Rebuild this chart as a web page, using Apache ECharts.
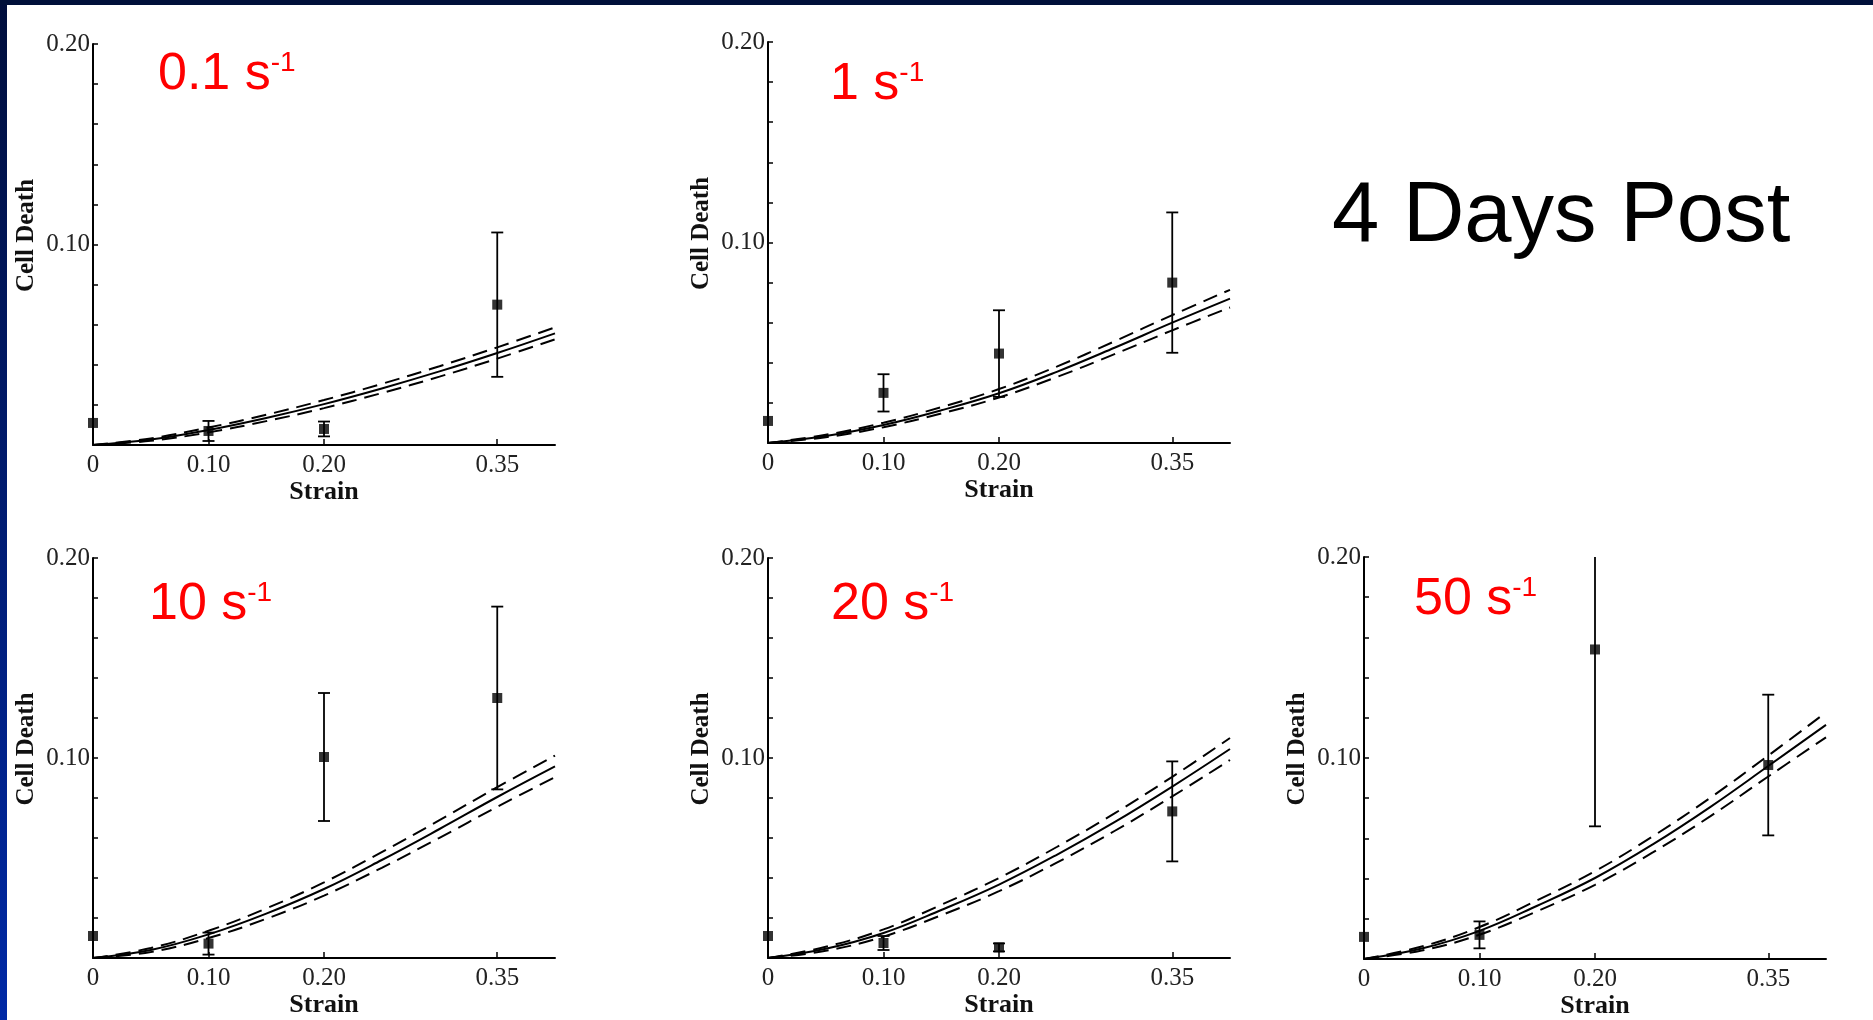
<!DOCTYPE html>
<html>
<head>
<meta charset="utf-8">
<title>Cell Death vs Strain — 4 Days Post</title>
<script src="https://cdn.jsdelivr.net/npm/echarts@6/dist/echarts.min.js"></script>
<style>
  html, body { margin: 0; padding: 0; background: #ffffff; }
  #chart { width: 1873px; height: 1020px; }
</style>
</head>
<body>
<div id="chart"></div>
<script>
// Strain-rate groups, one panel each
const rateLabels = ['0.1', '1', '10', '20', '50'];

// Measured strains and tick labels
const strainPoints = [0, 0.10, 0.20, 0.35];
const xTickValues = [0, 0.10, 0.20, 0.35];
const xTickLabels = ['0', '0.10', '0.20', '0.35'];

// Mean cell death and error half-widths at each strain
const mean01 = [0.011, 0.007, 0.008, 0.070];
const err01  = [0, 0.005, 0.0037, 0.036];
const mean1  = [0.011, 0.025, 0.0446, 0.080];
const err1   = [0, 0.0093, 0.0216, 0.035];
const mean10 = [0.011, 0.0072, 0.1005, 0.130];
const err10  = [0, 0.0055, 0.032, 0.0457];
const mean20 = [0.011, 0.0075, 0.0053, 0.0733];
const err20  = [0, 0.0035, 0.002, 0.025];
const mean50 = [0.011, 0.012, 0.154, 0.0965];
const err50  = [0, 0.0067, 0.088, 0.035];

// Fitted model curve with its upper and lower bounds
const fitStrain = [0, 0.05, 0.10, 0.15, 0.20, 0.25, 0.30, 0.35, 0.40];
const fitMid01 = [0, 0.0027, 0.0075, 0.0135, 0.0204, 0.0282, 0.0367, 0.0459, 0.0557];
const fitHi01  = [0, 0.0033, 0.0087, 0.0151, 0.0224, 0.0305, 0.0393, 0.0487, 0.0587];
const fitLo01  = [0, 0.0021, 0.0063, 0.0119, 0.0184, 0.0259, 0.0341, 0.0431, 0.0527];
const fitMid1  = [0, 0.0035, 0.0090, 0.0163, 0.0248, 0.0355, 0.0475, 0.0600, 0.0720];
const fitHi1   = [0, 0.0041, 0.0101, 0.0179, 0.0269, 0.0381, 0.0507, 0.0638, 0.0764];
const fitLo1   = [0, 0.0029, 0.0079, 0.0147, 0.0227, 0.0329, 0.0443, 0.0562, 0.0676];
const fitMid10 = [0, 0.0040, 0.0118, 0.0222, 0.0345, 0.0490, 0.0645, 0.0805, 0.0958];
const fitHi10  = [0, 0.0050, 0.0136, 0.0248, 0.0378, 0.0529, 0.0689, 0.0854, 0.1012];
const fitLo10  = [0, 0.0030, 0.0100, 0.0196, 0.0312, 0.0451, 0.0601, 0.0756, 0.0904];
const fitMid20 = [0, 0.0046, 0.0125, 0.0240, 0.0367, 0.0516, 0.0679, 0.0857, 0.1045];
const fitHi20  = [0, 0.0056, 0.0143, 0.0266, 0.0400, 0.0555, 0.0723, 0.0906, 0.1100];
const fitLo20  = [0, 0.0036, 0.0107, 0.0214, 0.0334, 0.0477, 0.0635, 0.0808, 0.0990];
const fitMid50 = [0, 0.0052, 0.0140, 0.0265, 0.0403, 0.0570, 0.0757, 0.0960, 0.1165];
const fitHi50  = [0, 0.0062, 0.0159, 0.0292, 0.0437, 0.0610, 0.0803, 0.1012, 0.1227];
const fitLo50  = [0, 0.0042, 0.0121, 0.0238, 0.0369, 0.0530, 0.0711, 0.0908, 0.1103];

const Y_MAX = 0.20;
const X_MAX = 0.40;

// Panel placement (pixels) and the rate label anchor for each panel
const panels = [
  { mean: mean01, err: err01, mid: fitMid01, hi: fitHi01, lo: fitLo01,
    grid: { left: 93, top: 44, width: 462, height: 401 }, label: [158, 49] },
  { mean: mean1, err: err1, mid: fitMid1, hi: fitHi1, lo: fitLo1,
    grid: { left: 768, top: 42, width: 462, height: 401 }, label: [830, 59] },
  { mean: mean10, err: err10, mid: fitMid10, hi: fitHi10, lo: fitLo10,
    grid: { left: 93, top: 558, width: 462, height: 400 }, label: [149, 579] },
  { mean: mean20, err: err20, mid: fitMid20, hi: fitHi20, lo: fitLo20,
    grid: { left: 768, top: 558, width: 462, height: 400 }, label: [831, 579] },
  { mean: mean50, err: err50, mid: fitMid50, hi: fitHi50, lo: fitLo50,
    grid: { left: 1364, top: 557, width: 462, height: 402 }, label: [1414, 574] }
];

const SERIF = "'Liberation Serif', 'Times New Roman', serif";
const SANS = "'Liberation Sans', Arial, sans-serif";

const grids = [], xAxes = [], yAxes = [], series = [], graphics = [];

// Slide frame: dark strip along the top, blue strip down the left
graphics.push({
  type: 'rect', x: 0, y: 0, z: 10,
  shape: { width: 7, height: 1020 },
  style: { fill: new echarts.graphic.LinearGradient(0, 0, 0, 1, [
    { offset: 0, color: '#000e3c' }, { offset: 1, color: '#0029a6' }]) }
});
graphics.push({
  type: 'rect', x: 0, y: 0, z: 11,
  shape: { width: 1873, height: 5 },
  style: { fill: '#00103a' }
});

panels.forEach((p, i) => {
  grids.push(Object.assign({ containLabel: false }, p.grid));

  xAxes.push({
    type: 'value', gridIndex: i, min: 0, max: X_MAX,
    name: 'Strain', nameLocation: 'middle', nameGap: 30,
    nameTextStyle: { fontFamily: SERIF, fontWeight: 'bold', fontSize: 26, color: '#111' },
    axisLine: { show: true, onZero: false, lineStyle: { color: '#000', width: 2 } },
    axisTick: { show: true, inside: true, length: 6, customValues: xTickValues.slice(1),
      lineStyle: { color: '#000', width: 1.5 } },
    axisLabel: {
      customValues: xTickValues, margin: 8,
      fontFamily: SERIF, fontSize: 25, color: '#222',
      formatter: v => xTickLabels[xTickValues.findIndex(t => Math.abs(t - v) < 1e-9)] ?? ''
    },
    splitLine: { show: false }
  });

  yAxes.push({
    type: 'value', gridIndex: i, min: 0, max: Y_MAX, interval: 0.02,
    name: 'Cell Death', nameLocation: 'middle', nameGap: 54,
    nameTextStyle: { fontFamily: SERIF, fontWeight: 'bold', fontSize: 25, color: '#111',
      padding: [0, 0, 0, 18] },
    axisLine: { show: true, onZero: false, lineStyle: { color: '#000', width: 2 } },
    axisTick: { show: true, inside: true, length: 5, lineStyle: { color: '#000', width: 1.5 } },
    axisLabel: {
      margin: 3, fontFamily: SERIF, fontSize: 25, color: '#222',
      showMinLabel: true, showMaxLabel: true,
      formatter: v => (Math.abs(v - 0.1) < 1e-9 ? '0.10' : Math.abs(v - 0.2) < 1e-9 ? '0.20' : '')
    },
    splitLine: { show: false }
  });

  const curve = arr => fitStrain.map((x, k) => [x, arr[k]]);
  const dashStyle = { color: '#000', width: 2, type: [15, 8] };

  series.push({
    type: 'line', xAxisIndex: i, yAxisIndex: i, data: curve(p.mid),
    showSymbol: false, smooth: 0.4, silent: true,
    lineStyle: { color: '#000', width: 2 }, z: 3
  });
  series.push({
    type: 'line', xAxisIndex: i, yAxisIndex: i, data: curve(p.hi),
    showSymbol: false, smooth: 0.4, silent: true,
    lineStyle: dashStyle, z: 3
  });
  series.push({
    type: 'line', xAxisIndex: i, yAxisIndex: i, data: curve(p.lo),
    showSymbol: false, smooth: 0.4, silent: true,
    lineStyle: dashStyle, z: 3
  });

  // Error bars, clipped at the top of the axis (no cap where clipped)
  series.push({
    type: 'custom', xAxisIndex: i, yAxisIndex: i, clip: false, silent: true, z: 4,
    data: strainPoints.map((x, k) => [x, p.mean[k], p.err[k]]),
    renderItem: (params, api) => {
      const x = api.value(0), m = api.value(1), e = api.value(2);
      if (!(e > 0)) return { type: 'group', children: [] };
      const hiV = Math.min(m + e, Y_MAX), loV = Math.max(m - e, 0);
      const top = api.coord([x, hiV]), bot = api.coord([x, loV]);
      const cap = 6;
      const stroke = { stroke: '#000', lineWidth: 1.8 };
      const children = [
        { type: 'line', shape: { x1: top[0], y1: top[1], x2: bot[0], y2: bot[1] }, style: stroke }
      ];
      if (m + e <= Y_MAX) {
        children.push({ type: 'line', shape: { x1: top[0] - cap, y1: top[1], x2: top[0] + cap, y2: top[1] }, style: stroke });
      }
      children.push({ type: 'line', shape: { x1: bot[0] - cap, y1: bot[1], x2: bot[0] + cap, y2: bot[1] }, style: stroke });
      return { type: 'group', children };
    }
  });

  series.push({
    type: 'scatter', xAxisIndex: i, yAxisIndex: i, clip: false, silent: true, z: 5,
    data: strainPoints.map((x, k) => [x, p.mean[k]]),
    symbol: 'rect', symbolSize: 10, itemStyle: { color: '#000' }
  });

  // Strain-rate label in red with superscript exponent
  graphics.push({
    type: 'text', x: p.label[0], y: p.label[1], z: 20,
    style: {
      text: '{m|' + rateLabels[i] + ' s}{s|-1}',
      align: 'left', textAlign: 'left', verticalAlign: 'top', textVerticalAlign: 'top',
      rich: {
        m: { fontSize: 52, fontFamily: SANS, fill: '#ff0000', color: '#ff0000', lineHeight: 52 },
        s: { fontSize: 28, fontFamily: SANS, fill: '#ff0000', color: '#ff0000', lineHeight: 20, verticalAlign: 'top' }
      }
    }
  });
});

// Time-point heading
graphics.push({
  type: 'text', x: 1332, y: 218, z: 20,
  style: {
    text: '4 Days Post', fontSize: 85, fontFamily: SANS, fill: '#000',
    align: 'left', textAlign: 'left', verticalAlign: 'middle', textVerticalAlign: 'middle'
  }
});

const chart = echarts.init(document.getElementById('chart'), null, { renderer: 'canvas' });
chart.setOption({
  backgroundColor: '#ffffff',
  animation: false,
  grid: grids,
  xAxis: xAxes,
  yAxis: yAxes,
  series: series,
  graphic: graphics
});
</script>
</body>
</html>
